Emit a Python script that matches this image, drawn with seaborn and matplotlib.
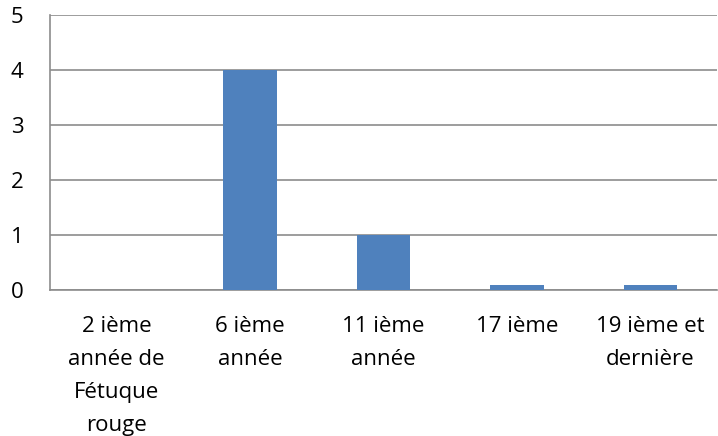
import numpy as np
import pandas as pd
import seaborn as sns
import matplotlib.pyplot as plt

# Data
categories = ["2 ième\nannée de\nFétuque\nrouge", "6 ième\nannée", "11 ième\nannée", "17 ième", "19 ième et\ndernière"]
values = [0, 4, 1, 0.1, 0.1]

df = pd.DataFrame({"Categorie": categories, "Valeur": values})

# Figure
sns.set_style("white")
plt.rcParams['font.family'] = ['Open Sans', 'DejaVu Sans']
fig = plt.figure(figsize=(7.18, 4.36), dpi=100)
ax = fig.add_axes([50 / 718, (436 - 290) / 436, 667 / 718, 275 / 436])

grid_col = "#8c8c8c"
sns.barplot(data=df, x="Categorie", y="Valeur", order=categories, color="#4f81bd",
            width=0.4, saturation=1, linewidth=0, ax=ax, zorder=3)

ax.set_xlim(-0.5, len(categories) - 0.5)
ax.set_ylim(0, 5)
ax.set_yticks(range(0, 6))
ax.yaxis.grid(True, color=grid_col, linewidth=1.2)
ax.set_axisbelow(True)
ax.set_xlabel("")
ax.set_ylabel("")

# category boundary ticks
ax.set_xticks(np.arange(-0.5, len(categories), 1), minor=True)
ax.tick_params(axis="x", which="major", length=0, pad=19, labelsize=16, labelcolor="black")
ax.tick_params(axis="x", which="minor", length=8, width=1.2, color=grid_col, direction="out")
ax.tick_params(axis="y", length=8, width=1.2, color=grid_col, direction="out", pad=11,
               labelsize=16, labelcolor="black")
for lbl in ax.get_xticklabels():
    lbl.set_linespacing(1.74)
    lbl.set_verticalalignment("top")

for s in ["top", "right"]:
    ax.spines[s].set_visible(False)
for s in ["left", "bottom"]:
    ax.spines[s].set_color(grid_col)
    ax.spines[s].set_linewidth(1.2)

fig.savefig("out.png", dpi=100)
